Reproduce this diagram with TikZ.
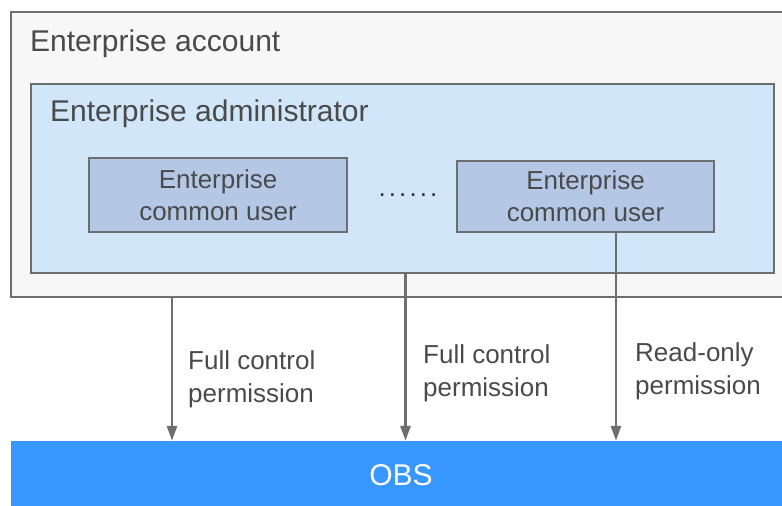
\documentclass[tikz,border=0pt]{standalone}
\usepackage{fontspec}
\setmainfont{Liberation Sans}
\usetikzlibrary{positioning, arrows.meta, calc}

\definecolor{linegray}{HTML}{6E6E6E}
\definecolor{textgray}{HTML}{4A4A4A}
\definecolor{accountbg}{HTML}{F7F7F7}
\definecolor{adminbg}{HTML}{D2E6F9}
\definecolor{userbg}{HTML}{B4C8E6}
\definecolor{obsblue}{HTML}{3797FE}

\begin{document}
\begin{tikzpicture}[x=1pt, y=-1pt,
    box/.style={rectangle, draw=linegray, line width=2.7pt, inner sep=0pt},
    account/.style={box, fill=accountbg},
    admin/.style={box, fill=adminbg},
    user/.style={box, fill=userbg, align=center, text=textgray, font=\fontsize{26}{32}\selectfont},
    obsbar/.style={rectangle, fill=obsblue, inner sep=0pt, text=white, font=\fontsize{30}{36}\selectfont},
    title/.style={anchor=base west, inner sep=0pt, text=textgray, font=\fontsize{30}{36}\selectfont},
    perm/.style={anchor=west, inner sep=0pt, align=left, text=textgray, font=\fontsize{26}{33}\selectfont},
    dotsep/.style={inner sep=0pt, text=black!80, font=\fontsize{26}{32}\selectfont\addfontfeature{LetterSpace=12}},
    arrow/.style={-{Triangle[length=15pt, width=10pt]}, line width=2.7pt, linegray},
]
\useasboundingbox (0,0) rectangle (782,506);
\clip (0,0) rectangle (782,506);

% Enterprise account (runs past the right edge)
\node[account, minimum width=789pt, minimum height=285pt] (account) at (405.5,154.5) {};
\node[title] (accounttitle) at (30,51) {Enterprise account};

% Enterprise administrator
\node[admin, minimum width=743pt, minimum height=189pt] (admin) at (402.5,178.5) {};
\node[title] (admintitle) at (50,121) {Enterprise administrator};

% Common users
\node[user, minimum width=258pt, minimum height=74pt] (user1) at (218,195) {Enterprise\\common user};
\node[dotsep] (more) at (408,195) {......};
\node[user, minimum width=257pt, minimum height=71pt] (user2) at (585.5,196.5) {Enterprise\\common user};

% OBS
\node[obsbar, minimum width=780pt, minimum height=68pt] (obs) at (401,475) {OBS};

% Arrow columns
\coordinate (c1) at (172,0);
\coordinate (c2) at (405.5,0);
\coordinate (c3) at (616,0);

% Arrows
\draw[arrow] (c1 |- account.south) -- (c1 |- obs.north);
\draw[arrow] (c2 |- admin.south) -- (c2 |- obs.north);
\draw[arrow] (c3 |- user2.south) -- (c3 |- obs.north);

% Permission labels
\node[perm] (perm1) at (188,379) {Full control\\permission};
\node[perm] (perm2) at (423,373) {Full control\\permission};
\node[perm] (perm3) at (635,371) {Read-only\\permission};

\end{tikzpicture}
\end{document}
